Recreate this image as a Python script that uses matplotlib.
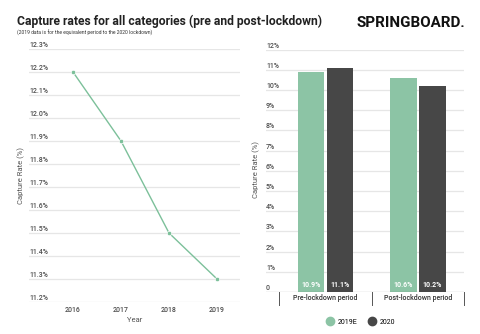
import matplotlib
matplotlib.use("Agg")
import matplotlib.pyplot as plt
from matplotlib.lines import Line2D

# --- Data
years = [2016, 2017, 2018, 2019]
capture_all = [12.2, 11.9, 11.5, 11.3]
line_ticks = [11.2, 11.3, 11.4, 11.5, 11.6, 11.7, 11.8, 11.9, 12.0, 12.1, 12.2, 12.3]

periods = ["Pre-lockdown period", "Post-lockdown period"]
series_names = ["2019E", "2020"]
rate_2019e = [10.9, 10.6]
rate_2020 = [11.1, 10.2]
bar_ticks = list(range(0, 13))

GREEN = "#8cc4a5"
LINE_GREEN = "#7cc09a"
DARK = "#474747"
GRID = "#e6e6e6"
TICK = "#4d4d4d"

plt.rcParams["font.family"] = ["Roboto", "DejaVu Sans"]

fig = plt.figure(figsize=(4.8, 3.34), dpi=100)
W, H = 480, 334


def box(x0, y0, x1, y1):
    return [x0 / W, 1 - y1 / H, (x1 - x0) / W, (y1 - y0) / H]


fig.text(17 / W, 1 - 21 / H, "Capture rates for all categories (pre and post-lockdown)",
         fontsize=8.7, fontweight="bold", color="#222222", va="center", ha="left")
fig.text(17 / W, 1 - 33 / H, "(2019 data is for the equivalent period to the 2020 lockdown)",
         fontsize=3.6, color="#333333", va="center", ha="left")
fig.text(465 / W, 1 - 23 / H, "SPRINGBOARD.", fontsize=10.9, fontweight="bold",
         color="#111111", va="center", ha="right")

# --- Left: line chart
ax1 = fig.add_axes(box(29, 49, 240, 302))
ax1.plot(years, capture_all, color=LINE_GREEN, lw=1.0, marker="o", ms=3.2,
         markerfacecolor=LINE_GREEN, markeredgecolor="white", markeredgewidth=0.5, zorder=3)
ax1.set_ylim(11.2, 12.3)
ax1.set_xlim(2015.083, 2019.479)
for v in line_ticks:
    ax1.axhline(v, color=GRID, lw=0.9, zorder=1)
    ax1.text(0, v, f"{v:.1f}%", transform=ax1.get_yaxis_transform(),
             fontsize=5, color=TICK, fontweight="medium", ha="left", va="bottom")
ax1.set_yticks([])
ax1.set_xticks(years)
ax1.set_xticklabels([str(y) for y in years], fontsize=5, color=TICK, fontweight="medium")
ax1.tick_params(axis="x", length=0, pad=3)
for s in ax1.spines.values():
    s.set_visible(False)
ax1.set_xlabel("Year", fontsize=5.5, color="#555555", labelpad=2)
fig.text(21 / W, 1 - 175 / H, "Capture Rate (%)", rotation=90, fontsize=5.5,
         color="#555555", ha="center", va="center")

# --- Right: grouped bars
ax2 = fig.add_axes(box(266, 49.5, 464, 292))
x = [0, 1]
bw = 0.29
off = 0.157
b1 = ax2.bar([i - off for i in x], rate_2019e, bw, color=GREEN, zorder=3)
b2 = ax2.bar([i + off for i in x], rate_2020, bw, color=DARK, zorder=3)
ax2.set_ylim(0, 12)
ax2.set_xlim(-0.643, 1.5)
for v in bar_ticks:
    if v > 0:
        ax2.axhline(v, color=GRID, lw=0.9, zorder=1)
    ax2.text(0, v, f"{v}%" if v else "0", transform=ax2.get_yaxis_transform(),
             fontsize=5, color=TICK, fontweight="medium", ha="left", va="bottom")
ax2.axhline(0, color="#555555", lw=0.8, zorder=4)
ax2.set_yticks([])
ax2.set_xticks([])
for s in ax2.spines.values():
    s.set_visible(False)
for xs in [-0.5, 0.5, 1.5]:
    ax2.plot([xs, xs], [0, -0.65], color="#555555", lw=0.7, clip_on=False)
for i, p in enumerate(periods):
    ax2.text(i, -0.3, p, fontsize=5, color="#333333", fontweight="medium",
             ha="center", va="center")
for bars, vals in [(b1, rate_2019e), (b2, rate_2020)]:
    for rect, v in zip(bars, vals):
        ax2.text(rect.get_x() + rect.get_width() / 2, 0.15, f"{v:.1f}%",
                 fontsize=5, color="white", fontweight="bold", ha="center", va="bottom", zorder=5)
fig.text(256 / W, 1 - 170 / H, "Capture Rate (%)", rotation=90, fontsize=5.5,
         color="#555555", ha="center", va="center")

handles = [Line2D([], [], marker="o", ls="", ms=6, color=GREEN),
           Line2D([], [], marker="o", ls="", ms=6, color=DARK)]
fig.legend(handles, series_names, loc="center", bbox_to_anchor=(361 / W, 1 - 322 / H),
           ncol=2, frameon=False, fontsize=5, handletextpad=0.6, columnspacing=1.6,
           handlelength=1.0)

fig.savefig("out.png", dpi=100)
